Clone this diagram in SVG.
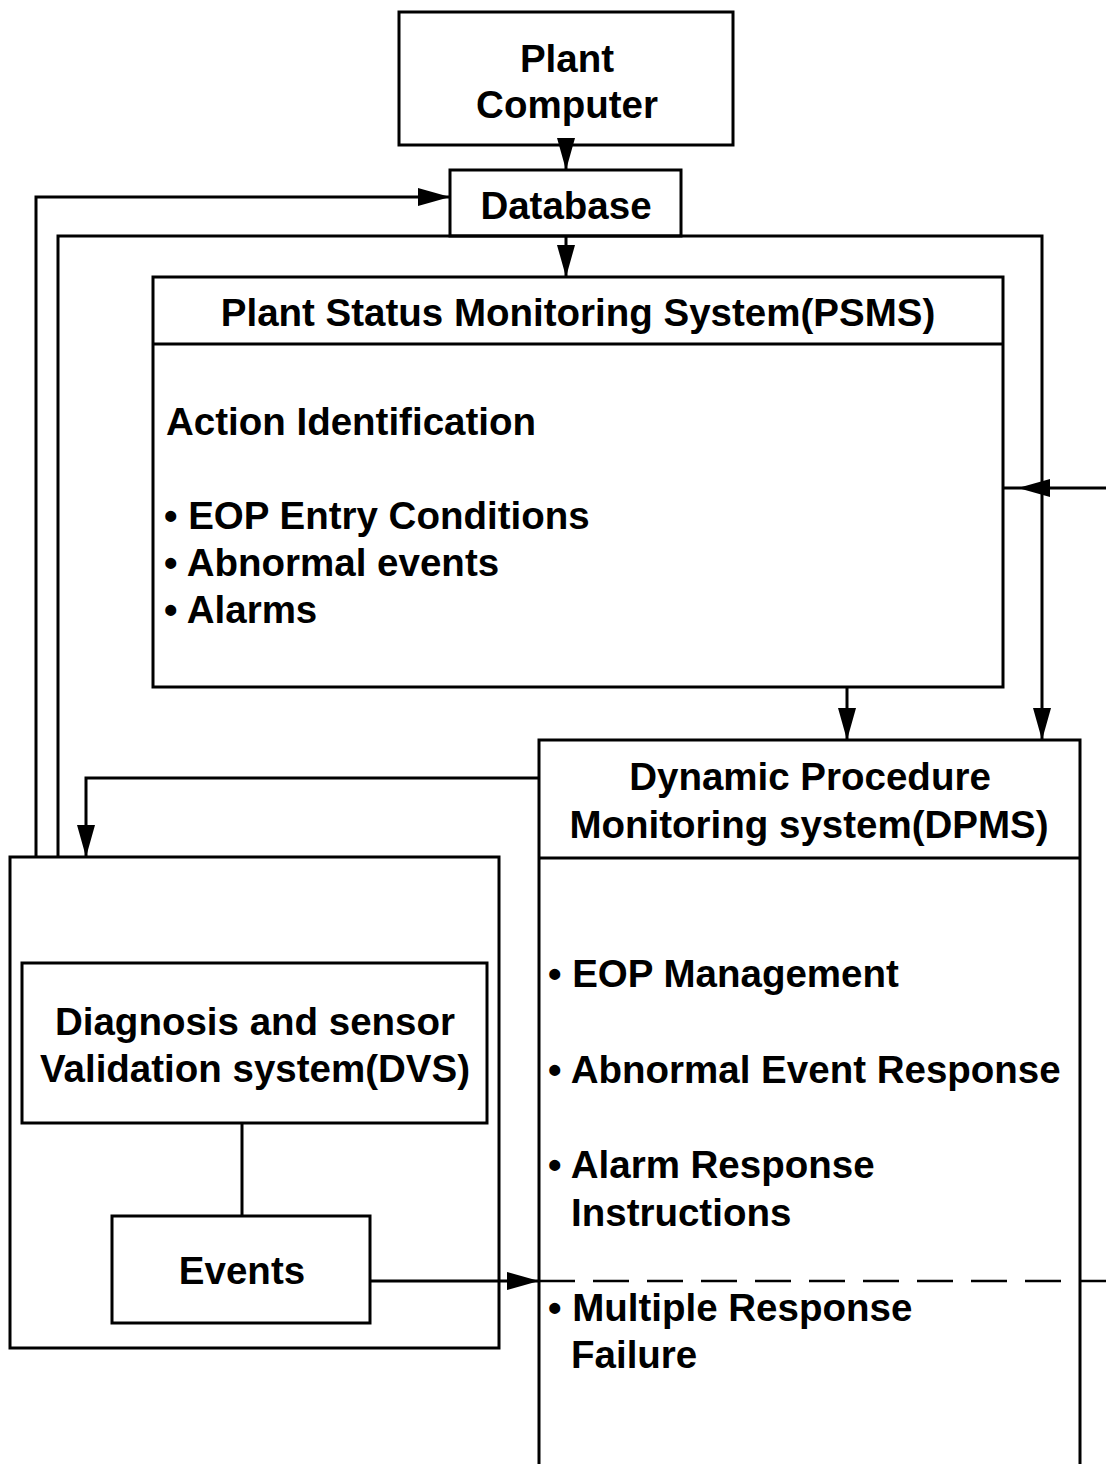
<svg xmlns="http://www.w3.org/2000/svg" width="1106" height="1464" viewBox="0 0 1106 1464">
<style>
.box{fill:#fff;stroke:#000;stroke-width:3}
.ln{fill:none;stroke:#000;stroke-width:3}
.dash{fill:none;stroke:#000;stroke-width:2.5;stroke-dasharray:36 18}
text{font-family:"Liberation Sans",Arial,sans-serif;font-weight:bold;font-size:38.5px;fill:#000}
.c{text-anchor:middle}
</style>
<defs>
<marker id="ah" markerUnits="userSpaceOnUse" markerWidth="34" markerHeight="20" refX="32" refY="9" orient="auto">
<path d="M0,0 L32,9 L0,18 z" fill="#000"/>
</marker>
</defs>
<g id="plant-computer">
<rect class="box" x="399" y="12" width="334" height="133"/>
<text class="c" x="567" y="72">Plant</text>
<text class="c" x="567" y="118">Computer</text>
</g>
<g id="database">
<rect class="box" x="450" y="170" width="231" height="66"/>
<text class="c" x="566" y="219">Database</text>
</g>
<g id="psms">
<rect class="box" x="153" y="277" width="850" height="410"/>
<path class="ln" d="M153,344 H1003"/>
<text class="c" x="578" y="326">Plant Status Monitoring System(PSMS)</text>
<text x="166" y="435">Action Identification</text>
<text x="164" y="529">• EOP Entry Conditions</text>
<text x="164" y="576">• Abnormal events</text>
<text x="164" y="623">• Alarms</text>
</g>
<g id="dpms">
<path class="box" d="M539,1464 V740 H1080 V1464"/>
<path class="ln" d="M539,858 H1080"/>
<text class="c" x="810" y="790">Dynamic Procedure</text>
<text class="c" x="809" y="838">Monitoring system(DPMS)</text>
<text x="548" y="987">• EOP Management</text>
<text x="548" y="1083">• Abnormal Event Response</text>
<text x="548" y="1178">• Alarm Response</text>
<text x="571" y="1226">Instructions</text>
<text x="548" y="1321">• Multiple Response</text>
<text x="571" y="1368">Failure</text>
</g>
<g id="dvs-outer">
<rect class="box" x="10" y="857" width="489" height="491"/>
</g>
<g id="dvs">
<rect class="box" x="22" y="963" width="465" height="160"/>
<text class="c" x="255" y="1035">Diagnosis and sensor</text>
<text class="c" x="255" y="1082">Validation system(DVS)</text>
</g>
<g id="events">
<rect class="box" x="112" y="1216" width="258" height="107"/>
<text class="c" x="242" y="1284">Events</text>
</g>
<g id="connectors">
<path class="ln" d="M566,145 V170" marker-end="url(#ah)"/>
<path class="ln" d="M36,857 V197 H450" marker-end="url(#ah)"/>
<path class="ln" d="M566,236 V277" marker-end="url(#ah)"/>
<path class="ln" d="M58,857 V236 H1042 V740" marker-end="url(#ah)"/>
<path class="ln" d="M1106,488 H1003"/>
<polygon points="1018,488 1050,479 1050,497" fill="#000"/>
<path class="ln" d="M847,687 V740" marker-end="url(#ah)"/>
<path class="ln" d="M539,778 H86 V857" marker-end="url(#ah)"/>
<path class="ln" d="M242,1123 V1216"/>
<path class="ln" d="M370,1281 H539" marker-end="url(#ah)"/>
<path class="dash" d="M539,1281 H1106"/>
</g>
</svg>
